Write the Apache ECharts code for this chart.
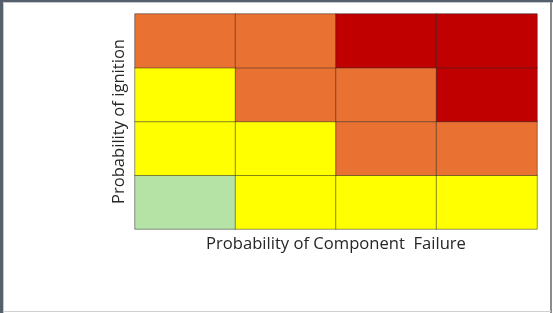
<!DOCTYPE html>
<html>
<head>
<meta charset="utf-8">
<script src="https://cdn.jsdelivr.net/npm/echarts@6/dist/echarts.min.js"></script>
<style>
  html, body { margin: 0; padding: 0; background: #fff; }
  #chart { width: 553px; height: 313px; }
</style>
</head>
<body>
<div id="chart"></div>
<script>
// failure probability levels (columns) and ignition probability levels (rows, bottom -> top)
const failureLevels = ["1", "2", "3", "4"];
const ignitionLevels = ["1", "2", "3", "4"];
// risk level per cell, one row per ignition level (bottom row first)
const riskRow1 = [1, 2, 2, 2];
const riskRow2 = [2, 2, 3, 3];
const riskRow3 = [2, 3, 3, 4];
const riskRow4 = [3, 3, 4, 4];
const riskColors = ["#B5E3A6", "#FFFF00", "#E97132", "#C00000"];

const rows = [riskRow1, riskRow2, riskRow3, riskRow4];
const cells = [];
rows.forEach((row, y) => {
  row.forEach((v, x) => cells.push([x, y, v]));
});

const chart = echarts.init(document.getElementById("chart"));
chart.setOption({
  animation: false,
  textStyle: { fontFamily: "Open Sans" },
  grid: { left: 135, top: 14, right: 16, bottom: 84 },
  xAxis: {
    type: "category",
    data: failureLevels,
    name: "Probability of Component  Failure",
    nameLocation: "middle",
    nameGap: 7,
    nameTextStyle: { color: "#262626", fontSize: 16.6, verticalAlign: "top" },
    axisLine: { show: false },
    axisTick: { show: false },
    axisLabel: { show: false },
    splitLine: { show: false },
  },
  yAxis: {
    type: "category",
    data: ignitionLevels,
    name: "Probability of ignition",
    nameLocation: "middle",
    nameGap: 7,
    nameRotate: 90,
    nameTextStyle: { color: "#262626", fontSize: 16.6, verticalAlign: "bottom" },
    axisLine: { show: false },
    axisTick: { show: false },
    axisLabel: { show: false },
    splitLine: { show: false },
  },
  visualMap: {
    show: false,
    type: "piecewise",
    dimension: 2,
    pieces: riskColors.map((c, i) => ({ value: i + 1, color: c })),
  },
  series: [
    {
      type: "heatmap",
      data: cells,
      itemStyle: { borderColor: "rgba(40,40,40,0.5)", borderWidth: 1 },
      emphasis: { disabled: true },
    },
  ],
  graphic: [
    { type: "rect", shape: { x: 0, y: 0, width: 553, height: 2 }, style: { fill: "#56606c" }, silent: true },
    { type: "rect", shape: { x: 0, y: 2, width: 553, height: 1 }, style: { fill: "#c4c8cc" }, silent: true },
    { type: "rect", shape: { x: 0, y: 0, width: 3, height: 313 }, style: { fill: "#56606c" }, silent: true },
    { type: "rect", shape: { x: 3, y: 2, width: 1, height: 311 }, style: { fill: "#c4c8cc" }, silent: true },
    { type: "rect", shape: { x: 550, y: 2, width: 2, height: 311 }, style: { fill: "#8c8c8c" }, silent: true },
    { type: "rect", shape: { x: 3, y: 311, width: 548, height: 1 }, style: { fill: "#d0d0d0" }, silent: true },
  ],
});
</script>
</body>
</html>
